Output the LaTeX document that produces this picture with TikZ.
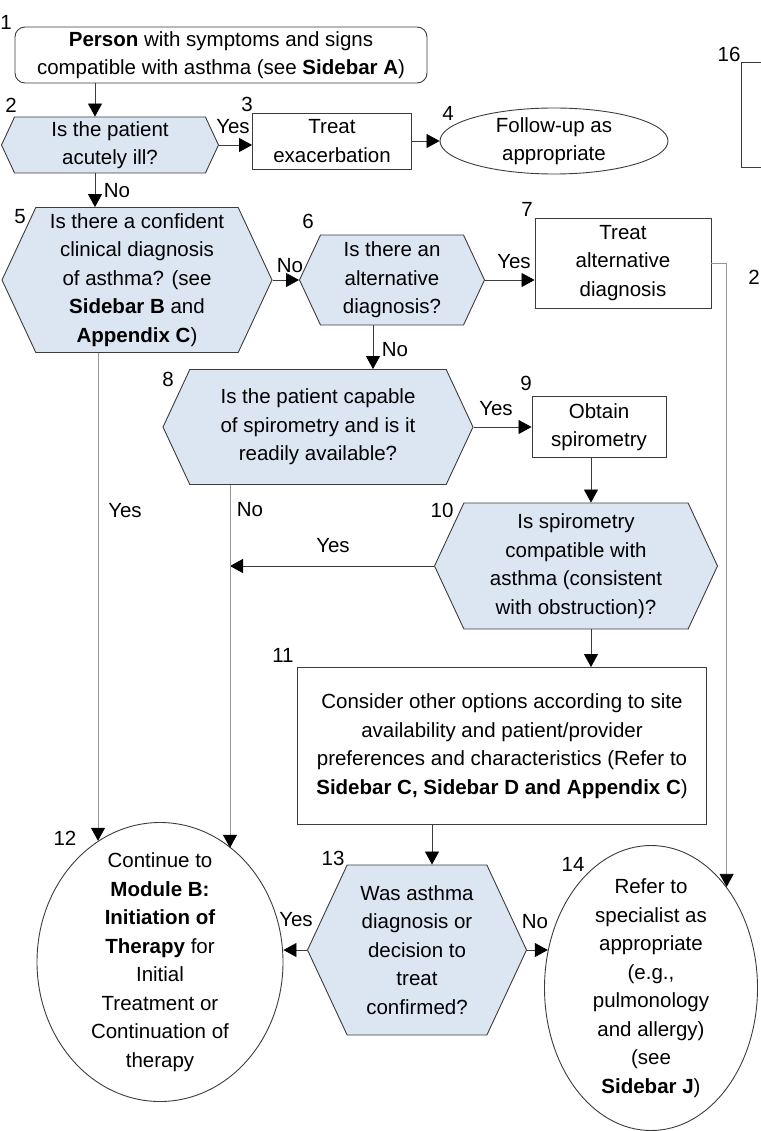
\documentclass[tikz,border=0pt]{standalone}
\usepackage{fontspec}
\setmainfont{Liberation Sans}
\usetikzlibrary{shapes.geometric,shapes.symbols,arrows.meta}
\definecolor{qblue}{RGB}{220,230,242}
\definecolor{edge}{RGB}{60,60,60}
\definecolor{trunk}{RGB}{150,150,150}
\tikzset{
  decision/.style={shape=signal, signal to=west and east, signal pointer angle=130,
    draw=edge, fill=qblue, align=center, inner sep=0pt},
  process/.style={rectangle, draw=edge, align=center, inner sep=0pt},
  outcome/.style={ellipse, draw=edge, align=center, inner xsep=0pt, inner ysep=-16pt},
  stepno/.style={inner sep=0pt},
  flow/.style={->, draw=edge, line width=0.8pt},
  route/.style={->, draw=trunk, line width=0.8pt},
}
\begin{document}
\begin{tikzpicture}[x=1pt, y=-1pt, line width=0.9pt,
    >={Triangle[width=14pt,length=13pt,color=black]},
    every node/.style={font=\fontsize{20.5}{28.5}\selectfont}]
  \useasboundingbox (0,0) rectangle (760,1131);
  % lanes for the vertical links
  \coordinate (lane2)   at (95,0);
  \coordinate (lane6)   at (373,0);
  \coordinate (lane9)   at (591,0);
  \coordinate (lane11)  at (432,0);
  \coordinate (laneYes) at (98,0);
  \coordinate (laneNo)  at (230,0);

  % boxes
  \node[process, rounded corners=10pt, minimum width=412, minimum height=56] (n1) at (221,55)
    {\textbf{Person} with symptoms and signs\\compatible with asthma (see \textbf{Sidebar A})};
  \node[decision, minimum width=217, minimum height=56] (n2) at (110,145) {Is the patient\\acutely ill?};
  \node[process, minimum width=159, minimum height=56] (n3) at (332,141) {Treat\\exacerbation};
  \node[outcome, minimum width=228, minimum height=66] (n4) at (554,141) {Follow-up as\\appropriate};
  \node[decision, minimum width=270, minimum height=145] (n5) at (137,280)
    {Is there a confident\\clinical diagnosis\\of asthma? (see\\\textbf{Sidebar B} and\\\textbf{Appendix C})};
  \node[decision, minimum width=185, minimum height=90] (n6) at (392,280) {Is there an\\alternative\\diagnosis?};
  \node[process, minimum width=176, minimum height=90] (n7) at (623,263) {Treat\\alternative\\diagnosis};
  \node[decision, minimum width=310, minimum height=115] (n8) at (318,427)
    {Is the patient capable\\of spirometry and is it\\readily available?};
  \node[process, minimum width=134, minimum height=61] (n9) at (599,427) {Obtain\\spirometry};
  \node[decision, minimum width=283, minimum height=126] (n10) at (576,566)
    {Is spirometry\\compatible with\\asthma (consistent\\with obstruction)?};
  \node[process, minimum width=409, minimum height=157] (n11) at (502,746)
    {Consider other options according to site\\availability and patient/provider\\preferences and characteristics (Refer to\\\textbf{Sidebar C, Sidebar D and Appendix C})};
  \node[outcome, minimum width=246, minimum height=279] (n12) at (160,962)
    {Continue to\\\textbf{Module B:}\\\textbf{Initiation of}\\\textbf{Therapy} for\\Initial\\Treatment or\\Continuation of\\therapy};
  \node[decision, minimum width=219, minimum height=170] (n13) at (417,950)
    {Was asthma\\diagnosis or\\decision to\\treat\\confirmed?};
  \node[outcome, minimum width=213, minimum height=285] (n14) at (651,988)
    {Refer to\\specialist as\\appropriate\\(e.g.,\\pulmonology\\and allergy)\\(see\\\textbf{Sidebar J})};
  \node[process, minimum width=120, minimum height=105, anchor=north west] (n16) at (741,62) {};

  % step numbers
  \foreach \k/\x/\y in {1/6/22, 2/11/105, 3/247/104, 4/448/113, 5/20/217, 6/308/221,
      7/527/209, 8/168/379, 9/526/383, 10/442/510, 11/283/655, 12/65/838,
      13/333/858, 14/573/864, 16/729/54}
    \node[stepno] (s\k) at (\x,\y) {\k};
  \node[stepno, anchor=west] (s2b) at (748,277) {2};

  % links
  \draw[flow] (n1.south -| lane2) -- (n2.north -| lane2);
  \draw[flow] (n2.east) -- (n2.east -| n3.west);
  \draw[flow] (n3.east) -- (n4.west);
  \draw[flow] (n2.south -| lane2) -- (n5.north -| lane2);
  \draw[flow] (n5.east) -- (n6.west);
  \draw[flow] (n6.east) -- (n6.east -| n7.west);
  \draw[route] (n7.east) -| (n14.north east);
  \draw[flow] (n6.south -| lane6) -- (n8.north -| lane6);
  \draw[flow] (n8.east) -- (n8.east -| n9.west);
  \draw[flow] (n9.south -| lane9) -- (n10.north -| lane9);
  \draw[flow] (n10.west) -- (n10.west -| laneNo);
  \draw[route] (n8.south -| laneNo) -- (laneNo |- n12.58);
  \draw[route] (n5.south -| laneYes) -- (laneYes |- n12.117);
  \draw[flow] (n10.south -| lane9) -- (n11.north -| lane9);
  \draw[flow] (n11.south -| lane11) -- (n13.north -| lane11);
  \draw[flow] (n13.west) -- (n13.west -| n12.east);
  \draw[flow] (n13.east) -- (n13.east -| n14.160);

  % answers
  \node (y23)  at (233,127) {Yes};
  \node (n25)  at (117,191) {No};
  \node (n56)  at (290,266) {No};
  \node (y67)  at (514,262) {Yes};
  \node (n68)  at (395,350) {No};
  \node (y89)  at (496,409) {Yes};
  \node (n812) at (250,510) {No};
  \node (y10)  at (333,546) {Yes};
  \node (y512) at (125,511) {Yes};
  \node (y1312) at (296,920) {Yes};
  \node (n1314) at (535,922) {No};
\end{tikzpicture}
\end{document}
